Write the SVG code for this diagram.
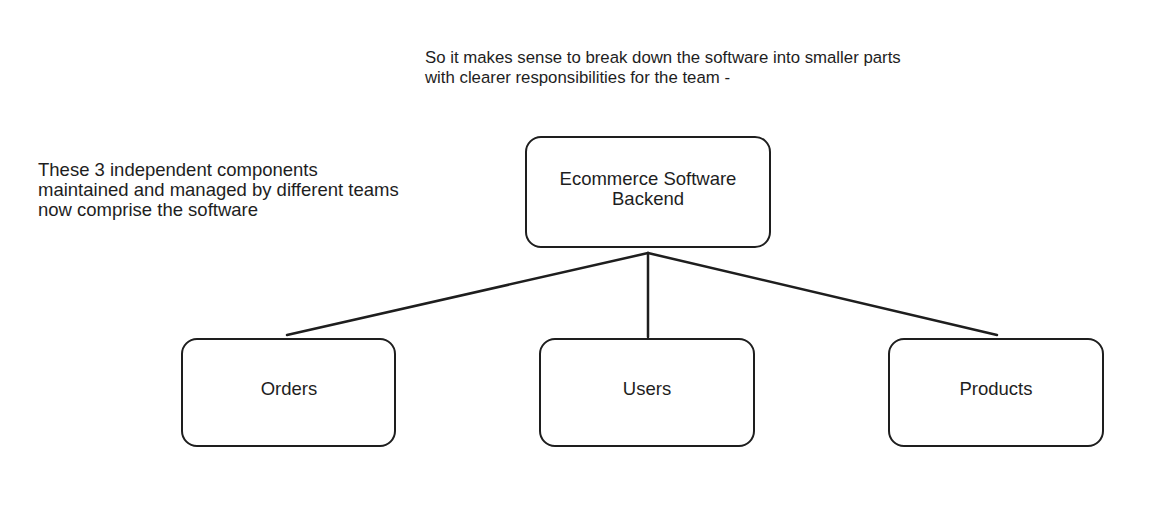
<svg xmlns="http://www.w3.org/2000/svg" width="1159" height="511" viewBox="0 0 1159 511">
<style>
.box{fill:#fff;stroke:#1e1e1e;stroke-width:2}
.t{font-family:"Liberation Sans",Arial,sans-serif;font-size:18.5px;fill:#1e1e1e}
.s{font-size:16.8px}
.c{text-anchor:middle}
.ln{stroke:#1e1e1e;stroke-width:2.5;fill:none;stroke-linecap:round}
</style>
<rect width="1159" height="511" fill="#fff"/>
<g id="note-top"><text class="t s" x="425" y="63">So it makes sense to break down the software into smaller parts</text><text class="t s" x="425" y="83">with clearer responsibilities for the team -</text></g>
<g id="note-left"><text class="t" x="38" y="176">These 3 independent components</text><text class="t" x="38" y="196">maintained and managed by different teams</text><text class="t" x="38" y="216">now comprise the software</text></g>
<g id="connectors">
<line class="ln" x1="287" y1="335" x2="648" y2="253"/>
<line class="ln" x1="648" y1="253" x2="648" y2="337"/>
<line class="ln" x1="648" y1="253" x2="997" y2="335"/>
</g>
<g id="backend"><rect class="box" x="526" y="137" width="244" height="110" rx="15"/><text class="t c" x="648" y="185">Ecommerce Software</text><text class="t c" x="648" y="205">Backend</text></g>
<g id="orders"><rect class="box" x="182" y="339" width="213" height="107" rx="15"/><text class="t c" x="289" y="395">Orders</text></g>
<g id="users"><rect class="box" x="540" y="339" width="214" height="107" rx="15"/><text class="t c" x="647" y="395">Users</text></g>
<g id="products"><rect class="box" x="889" y="339" width="214" height="107" rx="15"/><text class="t c" x="996" y="395">Products</text></g>
</svg>
